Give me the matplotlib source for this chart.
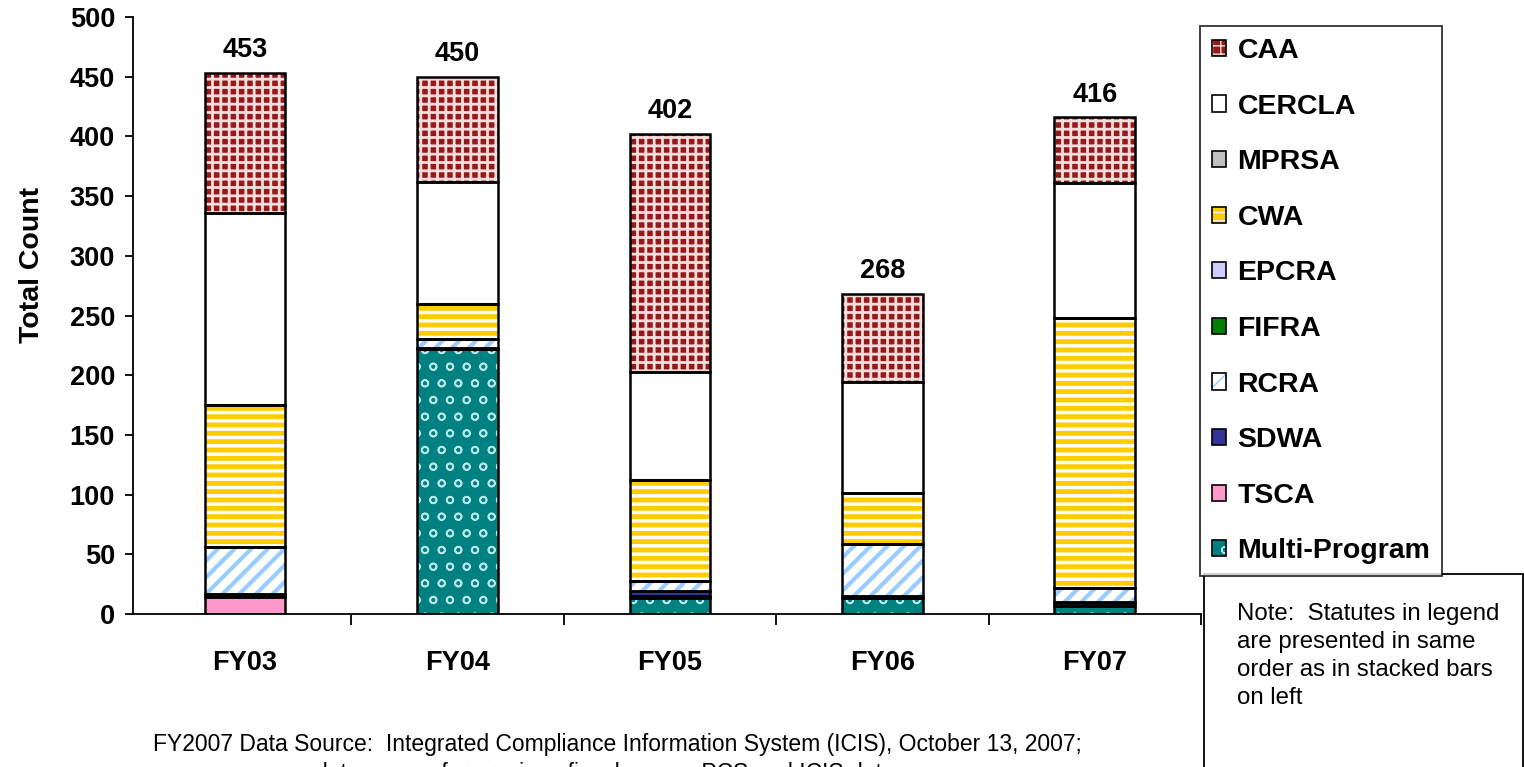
import numpy as np
import matplotlib
matplotlib.use('Agg')
import matplotlib.pyplot as plt
from matplotlib.patches import Patch, Rectangle

plt.rcParams['font.family'] = ['Liberation Sans', 'DejaVu Sans']

# Data, stacked bottom -> top
years = ['FY03', 'FY04', 'FY05', 'FY06', 'FY07']
multi_program = [0, 222, 13, 13, 7]
tsca = [14, 0, 2, 0, 2]
sdwa = [3, 1, 4, 2, 1]
rcra = [39, 7, 9, 44, 12]
fifra = [0, 0, 0, 0, 0]
epcra = [0, 0, 0, 0, 0]
cwa = [119, 30, 84, 42, 226]
mprsa = [0, 0, 0, 0, 0]
cercla = [161, 102, 91, 93, 113]
caa = [117, 88, 199, 74, 55]

series = [
    ('Multi-Program', multi_program),
    ('TSCA', tsca),
    ('SDWA', sdwa),
    ('RCRA', rcra),
    ('FIFRA', fifra),
    ('EPCRA', epcra),
    ('CWA', cwa),
    ('MPRSA', mprsa),
    ('CERCLA', cercla),
    ('CAA', caa),
]

# face colour, hatch, hatch colour, hatch linewidth
styles = {
    'Multi-Program': ('#008080', 'o', '#B8E8E8', 1.2),
    'TSCA': ('#FF99CC', None, None, 1.0),
    'SDWA': ('#333399', None, None, 1.0),
    'RCRA': ('white', '//', '#99CCFF', 3.0),
    'FIFRA': ('#008000', None, None, 1.0),
    'EPCRA': ('#CCCCFF', None, None, 1.0),
    'CWA': ('#FFCC00', '--', 'white', 2.5),
    'MPRSA': ('#C0C0C0', None, None, 1.0),
    'CERCLA': ('white', None, None, 1.0),
    'CAA': ('#961818', '++', '#F2DCDC', 2.0),
}

fig = plt.figure(figsize=(15.24, 7.67), dpi=100)
ax = fig.add_axes([0.0873, 0.1995, 0.7008, 0.7783])

x = np.arange(len(years))
width = 0.38
bottom = np.zeros(len(years))
handles = {}
for name, vals in series:
    vals = np.array(vals, dtype=float)
    fc, hatch, hc, hlw = styles[name]
    with plt.rc_context({'hatch.linewidth': hlw}):
        if hatch:
            ax.bar(x, vals, width, bottom=bottom, facecolor=fc, hatch=hatch,
                   edgecolor=hc, linewidth=0, zorder=2)
            h1 = Patch(facecolor=fc, hatch=hatch, edgecolor=hc, linewidth=0)
        else:
            ax.bar(x, vals, width, bottom=bottom, facecolor=fc, linewidth=0, zorder=2)
            h1 = Patch(facecolor=fc, linewidth=0)
    ax.bar(x, vals, width, bottom=bottom, fill=False, edgecolor='black',
           linewidth=1.8, zorder=3)
    handles[name] = (h1, Patch(fill=False, edgecolor='black', linewidth=1.2))
    bottom += vals

totals = bottom
for xi, t in zip(x, totals):
    ax.annotate(f'{int(t)}', (xi, t), xytext=(0, 7), textcoords='offset points',
                ha='center', va='bottom', fontsize=19.5, fontweight='bold')

ax.set_xlim(-0.527, 4.5)
ax.set_ylim(0, 500)
ax.set_yticks(np.arange(0, 501, 50))
ax.set_xticks(np.arange(0.5, 4.6, 1.0))
ax.set_xticklabels([])
ax.set_xticks(x, minor=True)
ax.set_xticklabels(years, minor=True, fontsize=19.5, fontweight='bold')
ax.tick_params(axis='x', which='major', direction='out', length=8, width=1.3)
ax.tick_params(axis='x', which='minor', length=0, pad=26)
ax.tick_params(axis='y', direction='out', length=6, width=1.3, pad=7)
for lab in ax.get_yticklabels():
    lab.set_fontsize(19.5)
    lab.set_fontweight('bold')
ax.spines['top'].set_visible(False)
ax.spines['right'].set_visible(False)
ax.spines['left'].set_linewidth(1.3)
ax.spines['bottom'].set_linewidth(1.3)
ax.set_ylabel('Total Count', fontsize=20.5, fontweight='bold')
ax.yaxis.set_label_coords(-0.082, 0.585)

# note box
fig.add_artist(Rectangle((1204 / 1524, -0.05), (1523 - 1204) / 1524, 0.05 + (767 - 574) / 767,
                         transform=fig.transFigure, fill=False, edgecolor='black',
                         linewidth=1.3))
fig.text(1237 / 1524, 1 - 603 / 767,
         'Note:  Statutes in legend\nare presented in same\norder as in stacked bars\non left',
         fontsize=17.3, va='top', ha='left', linespacing=1.36)

# legend, top entry = top of the stack
order = [name for name, _ in series][::-1]
leg = fig.legend([handles[n] for n in order], order, loc='upper left',
                 bbox_to_anchor=(1200 / 1524, 1 - 26 / 767),
                 prop={'size': 20.5, 'weight': 'bold'},
                 frameon=True, fancybox=False, edgecolor='black',
                 handlelength=0.5, handleheight=0.5, handletextpad=0.4,
                 labelspacing=1.04, borderpad=0.42, borderaxespad=0)
leg.get_frame().set_linewidth(1.3)
leg.set_zorder(5)

# source text at the bottom (second line runs off the page, as in the original)
fig.text(617 / 1524, 1 - 745 / 767,
         'FY2007 Data Source:  Integrated Compliance Information System (ICIS), October 13, 2007;',
         fontsize=16.5, ha='center', va='center')
fig.text(605 / 1524, 1 - 774 / 767,
         'data source for previous fiscal years:  PCS and ICIS data',
         fontsize=16.5, ha='center', va='center')

fig.savefig('out.png', dpi=100)
